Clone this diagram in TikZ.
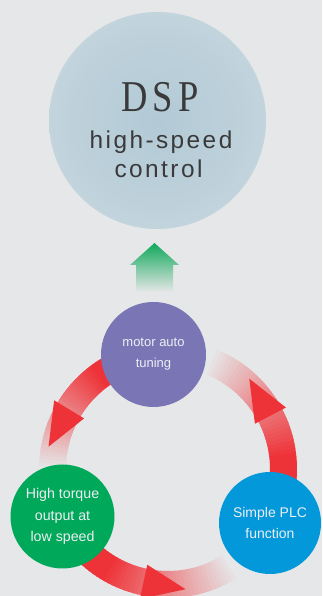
\documentclass[tikz,border=0pt]{standalone}
\usepackage{fontspec}
\setmainfont{Liberation Sans}
\newfontfamily\dspfont[FakeStretch=0.83,LetterSpace=12]{Liberation Serif}
\newfontfamily\headfont[LetterSpace=10]{Liberation Sans}
\usetikzlibrary{calc}

\definecolor{bg}{HTML}{E6E7E8}
\definecolor{ringred}{HTML}{EE3338}
\definecolor{tunepurple}{HTML}{7A75B5}
\definecolor{torquegreen}{HTML}{00A85A}
\definecolor{plcblue}{HTML}{0298DA}
\definecolor{arrowgreen}{HTML}{10A85B}
\definecolor{dspin}{HTML}{B2CAD6}
\definecolor{dspout}{HTML}{D5DFE4}
\definecolor{textgray}{HTML}{3A3A3A}
\definecolor{labelwhite}{HTML}{EEEEF4}

% soft glow of the DSP disc
\pgfdeclareradialshading{dspglow}{\pgfpoint{0bp}{0bp}}{%
  color(0bp)=(dspin); color(15bp)=(dspin!75!dspout); color(50bp)=(dspout)}

\tikzset{
  bubble/.style={circle, inner sep=0pt, text=labelwhite, align=center},
  headline/.style={text=textgray, anchor=base, inner sep=0pt},
  ringtip/.style={fill=ringred},
}

\begin{document}
\begin{tikzpicture}[x=1pt,y=1pt]
  \useasboundingbox (0,0) rectangle (322,596);
  \clip (0,0) rectangle (322,596);
  \fill[bg] (0,0) rectangle (322,596);

  % DSP disc with its headline
  \coordinate (dspc) at (157.5,475.5);
  \shade[shading=dspglow] (dspc) circle[radius=108.5];
  \node[headline, font=\dspfont\fontsize{44}{44}\selectfont] (dsp) at (160,484) {DSP};
  \node[headline, font=\headfont\fontsize{24.4}{29}\selectfont] (hs) at (161,447.5) {high-speed};
  \node[headline, font=\headfont\fontsize{24.4}{29}\selectfont] (ctl) at (158.5,418.5) {control};

  % upward block arrow
  \shade[top color=arrowgreen, middle color=arrowgreen!60!bg, bottom color=bg]
    (154.5,353) -- (179,331) -- (173,331) -- (173,304) -- (136,304) -- (136,331) -- (130,331) -- cycle;

  % ring of three fading arcs
  \coordinate (ring) at (168,127);
  \begin{scope}[shift={(ring)}]
    \foreach \a/\b in {97/204, 204/332, 332/457}{
      \foreach \i in {0,...,63}{
        \pgfmathsetmacro\t{(\i+0.5)/64}
        \pgfmathsetmacro\anga{\a+(\b-\a)*\i/64}
        \pgfmathsetmacro\angb{\a+(\b-\a)*(\i+1)/64+0.5}
        \pgfmathsetmacro\mixval{max(0,min(100,100*(1.55-2*\t)))}
        \fill[ringred!\mixval!bg] (\anga:102) arc[start angle=\anga, end angle=\angb, radius=102]
          -- (\angb:129) arc[start angle=\angb, end angle=\anga, radius=129] -- cycle;
      }
    }
    % arrowheads along the ring
    \foreach \c in {148.9, 257.8, 27.5}{
      \fill[ringtip] (\c:98) -- (\c:133) -- (\c+20.5:121.5) -- cycle;
    }
  \end{scope}

  % the three feature discs
  \node[bubble, fill=tunepurple, minimum size=105pt, font=\fontsize{13}{21}\selectfont]
    (tune) at (153.5,241.5) {motor auto\\tuning};
  \node[bubble, fill=torquegreen, minimum size=104pt, font=\fontsize{14.2}{21.7}\selectfont]
    (torque) at (62.5,79.5) {High torque\\output at\\low speed};
  \node[bubble, fill=plcblue, minimum size=102pt, font=\fontsize{14}{21}\selectfont]
    (plc) at (270,73) {Simple PLC\\function};
\end{tikzpicture}
\end{document}
